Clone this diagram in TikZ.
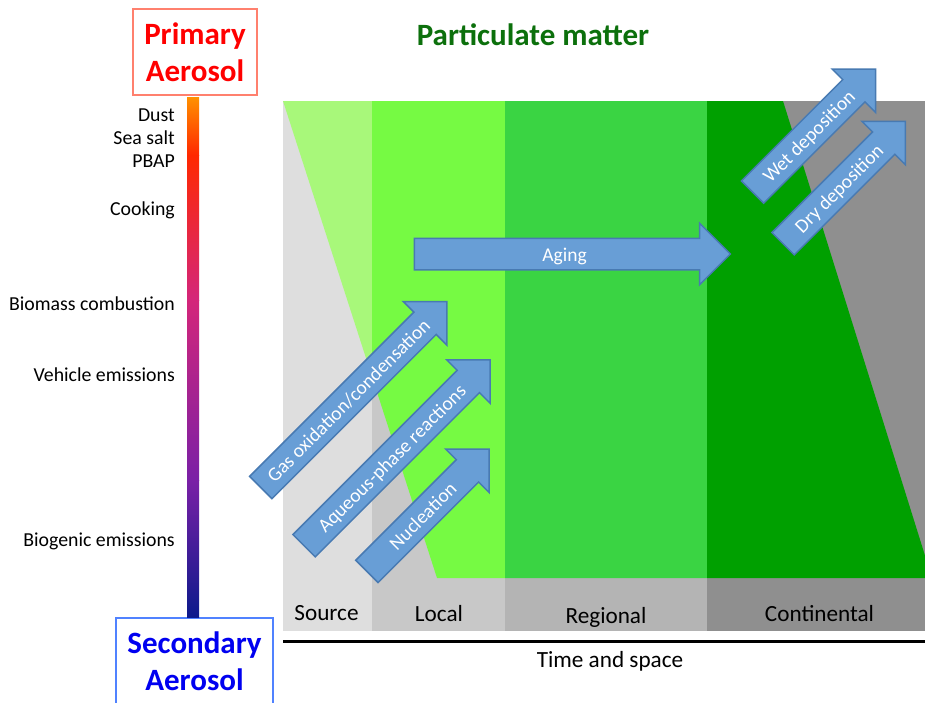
\documentclass[tikz,border=0pt]{standalone}
\usepackage{fontspec}
\setmainfont{Carlito}
\usetikzlibrary{shapes.arrows}
\usetikzlibrary{positioning}
\definecolor{arrowfill}{RGB}{104,158,214}
\definecolor{arrowdraw}{RGB}{72,122,178}
\definecolor{srcgreen}{RGB}{168,248,122}
\definecolor{locgreen}{RGB}{118,250,67}
\definecolor{reggreen}{RGB}{58,212,67}
\definecolor{congreen}{RGB}{0,160,0}
\definecolor{srcgray}{RGB}{222,222,222}
\definecolor{locgray}{RGB}{200,200,200}
\definecolor{reggray}{RGB}{180,180,180}
\definecolor{congray}{RGB}{143,143,143}
\definecolor{titlegreen}{RGB}{12,112,12}
\definecolor{primred}{RGB}{255,0,0}
\definecolor{primdraw}{RGB}{255,128,110}
\definecolor{secblue}{RGB}{0,0,240}
\definecolor{secdraw}{RGB}{80,130,255}
\definecolor{barA}{RGB}{255,145,0}
\definecolor{barB}{RGB}{255,40,0}
\definecolor{barC}{RGB}{212,38,122}
\definecolor{barD}{RGB}{122,32,166}
\definecolor{barE}{RGB}{12,26,140}
\tikzset{
    myarrow/.style = {single arrow, draw=arrowdraw, line width=1.5pt, fill=arrowfill, text=white,
        single arrow head extend=15pt, single arrow tip angle=90, minimum width=60pt,
        inner xsep=2pt, inner ysep=6pt, text height=16pt, text depth=2pt, font=\fontsize{19.5}{22}\selectfont},
    mylabel/.style = {anchor=base east, inner sep=0pt, font=\fontsize{19.8}{22}\selectfont},
    myscale/.style = {anchor=base, inner sep=0pt, font=\fontsize{23.2}{26}\selectfont},
    mybox/.style = {draw, line width=1.2pt, align=center, inner sep=0pt, font=\bfseries\fontsize{31}{37}\selectfont},
}
\begin{document}
\begin{tikzpicture}[x=1pt,y=-1pt]
  \useasboundingbox[fill=white] (0,0) rectangle (925,702);
  % columns
  \foreach \xa/\xb/\gr/\gn in {283/372/srcgray/srcgreen, 372/505/locgray/locgreen,
      505/707/reggray/reggreen, 707/925/congray/congreen}{
    \fill[\gr] (\xa,101) rectangle (\xb,630.5);
    \begin{scope}
      \clip (\xa,101) rectangle (\xb,630.5);
      \fill[\gn] (283,101) -- (783,101) -- (932,578) -- (437,578) -- cycle;
    \end{scope}
  }
  \node[myscale] (source) at (326.5,620) {Source};
  \node[myscale] (local) at (439,621.7) {Local};
  \node[myscale] (regional) at (606,623.3) {Regional};
  \node[myscale] (continental) at (819.5,621.7) {Continental};
  \coordinate (axisl) at (283,641);
  \coordinate (axisr) at (925,641);
  \draw[line width=3pt] (axisl) -- (axisr);
  \node[myscale] (time) at (610,667.7) {Time and space};
  \node[font=\bfseries\fontsize{31}{37}\selectfont, text=titlegreen, anchor=base] (title) at (533,45) {Particulate matter};
  % aerosol scale
  \node[mybox, draw=primdraw, text=primred, minimum width=124pt, minimum height=86pt] (primary) at (195,52) {Primary\\Aerosol};
  \node[mybox, draw=secdraw, text=secblue, minimum width=157pt, minimum height=87pt] (secondary) at (194.5,661.5) {Secondary\\Aerosol};
  \foreach \ya/\yb/\ca/\cb in {97/155/barA/barB, 155/300/barB/barC, 300/480/barC/barD, 480/617/barD/barE}
    \shade[top color=\ca, bottom color=\cb] (187,\ya) rectangle (199,\yb);
  \node[mylabel] (dust) at (175,121) {Dust};
  \node[mylabel] (seasalt) at (175,144.5) {Sea salt};
  \node[mylabel] (pbap) at (175,167) {PBAP};
  \node[mylabel] (cooking) at (175,215.5) {Cooking};
  \node[mylabel] (biomass) at (175,310) {Biomass combustion};
  \node[mylabel] (vehicle) at (175,381.5) {Vehicle emissions};
  \node[mylabel] (biogenic) at (175,546) {Biogenic emissions};
  % processes
  \node[myarrow, minimum height=316pt] (aging) at (564.5,254) {Aging};
  \node[myarrow, minimum height=263pt, rotate=45] (gasox) at (348.2,400.1) {Gas oxidation/condensation};
  \node[myarrow, minimum height=263pt, rotate=45] (aqueous) at (391.5,458.3) {Aqueous-phase reactions};
  \node[myarrow, minimum height=173pt, rotate=45] (nucleation) at (422.5,515.8) {Nucleation};
  \node[myarrow, minimum height=174pt, rotate=45] (wetdep) at (808.5,136.1) {Wet deposition};
  \node[myarrow, minimum height=173pt, rotate=45] (drydep) at (838.7,188.1) {Dry deposition};
\end{tikzpicture}
\end{document}
